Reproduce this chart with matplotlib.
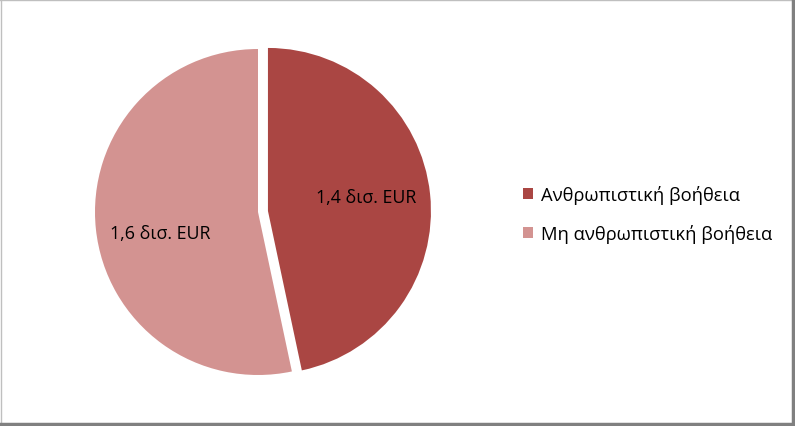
import numpy as np
import matplotlib.pyplot as plt
from matplotlib.lines import Line2D

# data
categories = ['Ανθρωπιστική βοήθεια', 'Μη ανθρωπιστική βοήθεια']
values = [1.4, 1.6]  # δισ. EUR
colors = ['#AA4643', '#D39391']
explode = [10, 0]

plt.rcParams['font.family'] = ['Open Sans', 'DejaVu Sans']

W, H = 795, 427
fig = plt.figure(figsize=(W / 100, H / 100), dpi=100)
ax = fig.add_axes([0, 0, 1, 1])

total = sum(values)


def fmt(pct):
    v = pct * total / 100
    return f'{v:.1f}'.replace('.', ',') + ' δισ. EUR'


radius = 163
wedges, texts, autotexts = ax.pie(values, colors=colors, explode=explode,
                                  startangle=90, counterclock=False,
                                  center=(258, 214), radius=radius,
                                  autopct=fmt, pctdistance=0.6,
                                  wedgeprops=dict(linewidth=0),
                                  textprops=dict(fontsize=12.8, color='black'),
                                  frame=True)
ax.set_xlim(0, W)
ax.set_ylim(0, H)
ax.axis('off')

# nudge labels the way Excel places them (angle offset in degrees, distance)
label_place = [(2, 0.61), (6, 0.61)]
for w, t, (dang, dist) in zip(wedges, autotexts, label_place):
    ang = np.deg2rad((w.theta1 + w.theta2) / 2 + dang)
    cx, cy = w.center
    t.set_position((cx + dist * radius * np.cos(ang), cy + dist * radius * np.sin(ang)))

ax.legend(wedges, categories, loc='center left',
          bbox_to_anchor=(514 / W, 1 - 215 / H), bbox_transform=fig.transFigure,
          frameon=False, fontsize=13.2, handlelength=0.55, handleheight=0.55,
          handletextpad=0.4, labelspacing=1.1, borderpad=0)

# chart border
fig.add_artist(Line2D([0.5 / W, 0.5 / W], [0, 1], color='#BFBFBF', lw=1))
fig.add_artist(Line2D([0, 1], [1 - 0.5 / H, 1 - 0.5 / H], color='#BFBFBF', lw=1))
fig.add_artist(Line2D([1 - 2 / W, 1 - 2 / W], [0, 1], color='#808080', lw=2.5))
fig.add_artist(Line2D([0, 1], [2 / H, 2 / H], color='#808080', lw=2.5))

fig.savefig('out.png', dpi=100)
